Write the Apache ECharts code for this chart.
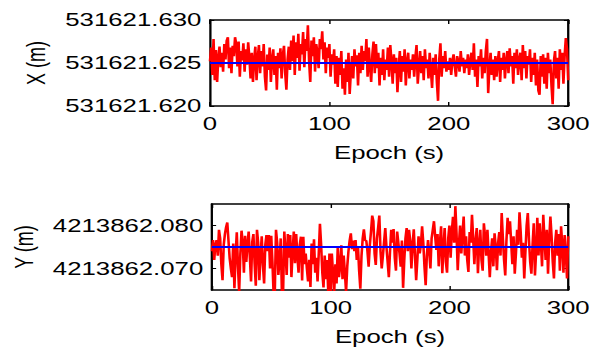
<!DOCTYPE html>
<html>
<head>
<meta charset="utf-8">
<script src="https://cdn.jsdelivr.net/npm/echarts@6/dist/echarts.min.js"></script>
<style>
html, body { margin: 0; padding: 0; background: #fff; overflow: hidden; }
/* the original figure was stretched sideways, so draw narrow and widen */
#chart { width: 415px; height: 356px; transform: scaleX(1.4313); transform-origin: 0 0; }
</style>
</head>
<body>
<div id="chart"></div>
<script>
// epochs in seconds
const EPOCH_START = 0
const EPOCH_STEP = 1
const xTicks = [0, 100, 200, 300]

// X coordinate: mean and per-epoch deviation from it (mm)
const X_MEAN = 531621.625
const xTickLabels = [531621.620, 531621.625, 531621.630]
const xDevMm = [
	0.2, 1.8, -1.4, 2.8, -2.0, 1.5, -2.2, 0.6, 1.9, -0.5,
	1.2, -1.0, 2.2, 0.4, 2.6, 3.0, -0.6, 1.8, -1.2, 2.0,
	0.8, 3.0, 2.2, -0.4, 2.5, -1.6, 1.4, 0.3, 2.3, -1.0,
	1.6, -0.2, 2.4, 0.6, -1.8, 1.2, -2.2, 0.4, 1.9, -2.0,
	0.6, 2.1, -1.2, 1.4, -0.4, 2.2, -1.6, -3.2, 1.0, -0.8,
	1.8, -2.2, 0.5, 1.6, -1.4, 0.8, -3.1, 1.2, -0.6, 1.7,
	-1.8, 0.9, 2.0, -1.2, -3.1, 0.4, 1.9, -0.8, 2.6, 0.2,
	3.2, -1.4, 2.4, 0.6, 3.4, -0.9, 2.2, 1.0, 3.6, -0.5,
	2.8, 1.4, 4.4, 0.2, -2.2, 2.6, 0.8, 3.0, -1.0, 2.2,
	1.2, -0.6, 2.8, 1.6, 3.7, 0.4, 2.4, -1.2, 1.8, 0.6,
	2.2, -1.6, 1.0, -0.2, 1.6, -2.4, 0.8, -2.8, 0.6, -1.4,
	1.4, -3.0, -0.6, -3.7, 0.4, -2.2, 1.2, -3.6, -1.0, 0.8,
	-1.8, 1.6, -0.4, 0.9, -2.6, 1.2, -1.2, 2.0, -0.8, 1.4,
	0.2, 2.8, -1.6, 1.8, -0.4, -2.2, 1.0, 2.5, -1.2, 2.2,
	-0.6, 1.2, -2.6, 0.6, -1.4, 1.6, -2.0, 0.4, -0.8, 1.8,
	-1.6, 2.1, 0.2, -2.4, 1.0, -1.2, 0.6, -3.4, -0.6, 1.4,
	-2.2, 0.8, -1.0, 1.6, -2.6, 0.2, 1.2, -1.8, 0.4, -0.8,
	1.0, -1.6, 0.6, 2.1, -2.4, -0.4, 1.4, -1.2, 0.8, -2.0,
	1.6, -0.6, 0.4, -1.8, 1.2, -0.8, -2.9, 0.6, -1.4, 1.0,
	-2.2, -4.4, 0.4, 2.3, -1.6, 0.8, -0.6, 1.4, -1.0, 0.2,
	-0.8, 0.6, -1.4, 0.2, 1.0, -0.4, -1.6, 0.8, 0.2, -1.0,
	1.4, -0.4, 0.6, -1.2, 0.4, -0.6, 1.0, -1.4, 0.2, 1.2,
	-0.8, 2.3, -1.6, 0.4, -2.8, 0.8, -0.4, 1.6, -1.8, 0.6,
	-1.2, 1.4, 2.8, -3.5, -0.6, 1.2, -1.4, 0.4, -2.0, 0.8,
	-1.6, 0.2, 1.4, -2.2, 0.6, -0.8, 1.2, -1.8, 0.2, 1.4,
	-1.2, 1.7, -0.4, 0.8, -2.4, 1.2, -0.6, 1.6, -1.4, 0.4,
	1.2, -2.0, 2.1, -0.6, 1.4, -1.8, 0.8, -0.2, 1.6, -2.2,
	0.6, -1.4, 1.2, -2.6, 0.4, -3.2, -3.7, 0.8, -1.6, 1.0,
	-2.4, 0.6, -3.0, 1.2, -1.2, 0.4, -2.6, -4.8, 0.2, 1.4,
	-1.8, 0.6, -3.0, 1.6, -0.8, 1.2, -2.4, 0.8, 2.9, 1.6, -2.0
]

// Y coordinate: mean and per-epoch deviation from it (mm)
const Y_MEAN = 4213862.075
const yTickLabels = [4213862.070, 4213862.080]
const yDevMm = [
	-1.0, 1.6, -3.0, 0.5, 1.6, -2.0, 4.0, 2.0, -4.0, -7.7,
	0.5, 3.0, 4.6, 5.7, 1.5, -2.6, -5.0, -7.0, 0.8, -9.6,
	-2.0, 3.4, -4.5, -10.5, -1.5, 3.8, 1.0, -6.0, 2.6, -3.5,
	0.6, 3.6, -2.4, -8.0, 1.2, 3.0, -3.8, -9.0, 4.0, 1.0,
	-7.7, -2.0, 2.5, -4.2, -8.5, 0.5, 2.8, -1.0, 2.8, -5.0,
	2.6, -3.5, -11.0, -10.5, 4.0, 1.0, -6.5, -3.0, 2.0, -11.0,
	-10.5, 3.6, -1.0, -6.5, 3.0, -2.5, 2.8, -7.0, -1.0, 3.6,
	-3.8, 3.0, -2.0, -6.0, 0.5, 2.4, -7.8, 2.4, -4.0, -1.5,
	-5.0, -8.0, -3.0, -9.3, 0.8, -4.0, 1.8, -6.0, -2.5, -8.0,
	-1.5, 5.4, 0.5, -6.0, -9.4, -2.0, -7.5, -3.0, -10.5, -1.5,
	-11.0, -1.5, -6.0, -10.5, -4.0, -8.5, 0.0, -7.0, -4.5, 0.4,
	-7.5, -2.0, -6.0, -10.5, -4.5, -1.0, 1.5, 3.2, -0.5, 1.5,
	-1.0, 1.6, -3.0, 0.2, -5.5, -9.7, -2.0, 2.0, 4.1, 1.5,
	1.5, -1.0, -4.6, 0.5, 3.6, 7.3, 6.0, -1.5, -4.2, 2.0,
	4.5, 7.3, -1.0, -5.0, -2.0, 1.2, 4.4, 0.0, -3.5, -7.0,
	-1.0, 4.0, 1.0, 4.2, -2.5, -5.5, 3.6, 1.0, -1.5, -4.6,
	1.5, -9.5, -3.0, 2.0, 4.4, -1.0, 4.0, 1.5, -5.0, 0.5,
	4.1, -2.0, -7.7, -3.0, 2.5, -1.5, 0.5, 4.8, 1.0, -4.5,
	-8.9, -2.0, 1.6, -1.0, -5.0, 2.0, 4.0, 6.0, 2.5, -0.7,
	3.0, -4.5, 1.0, 4.8, -6.1, 0.0, 4.4, -3.5, -6.0, 2.0,
	5.0, -2.5, 3.5, 7.0, 1.0, 9.5, 3.0, -5.4, 0.5, 5.0,
	-1.5, 3.0, 7.1, -2.0, 2.5, -3.0, -5.8, 3.5, 1.0, 7.5,
	2.0, -4.0, 1.5, 4.4, -6.1, 0.5, 4.0, -3.0, -5.5, 5.5,
	2.5, -2.0, 4.0, -1.5, -7.0, -1.0, 2.0, -4.5, 3.2, 0.0,
	-5.4, 1.0, 3.5, -2.0, 7.9, 2.0, -3.0, -6.6, 1.5, 6.8,
	3.0, 6.0, 1.0, -4.0, 2.5, -6.2, -1.5, 4.0, 0.5, 8.1,
	3.5, -2.5, 1.0, -7.3, -1.0, 5.0, 7.9, 1.5, -3.5, -6.2,
	0.5, 5.5, -6.6, -1.0, 6.8, -2.0, 5.5, 1.0, -4.5, 7.5,
	2.0, -3.0, 4.0, -6.2, 1.5, 7.1, 2.5, -3.5, -7.3, 1.0,
	4.0, -2.0, 3.0, -5.5, 4.8, 0.5, -6.0, 2.8, -1.5, -7.3, 2.5
]

const font = 'Liberation Sans, Arial, sans-serif'
const black = '#000'

function toPoints(mean, devMm) {
	return devMm.map((v, i) => [EPOCH_START + i * EPOCH_STEP, mean + v / 1000])
}

function xAxes(gridIndex) {
	const base = {
		gridIndex: gridIndex,
		type: 'value',
		min: xTicks[0],
		max: xTicks[xTicks.length - 1],
		interval: 100,
		splitLine: { show: false },
		axisLine: { show: true, onZero: false, lineStyle: { color: black, width: 1.6 } },
		axisTick: { inside: true, length: 4, lineStyle: { color: black, width: 1 } }
	}
	return [
		Object.assign({}, base, {
			position: 'bottom',
			name: 'Epoch (s)',
			nameLocation: 'middle',
			nameGap: 38,
			nameTextStyle: { color: black, fontSize: 18, fontFamily: font },
			axisLabel: { color: black, fontSize: 18, fontFamily: font, margin: 9 }
		}),
		Object.assign({}, base, { position: 'top', axisLabel: { show: false } })
	]
}

function yAxes(gridIndex, min, max, ticks, name, nameGap) {
	const base = {
		gridIndex: gridIndex,
		type: 'value',
		min: min,
		max: max,
		scale: true,
		splitLine: { show: false },
		axisLine: { show: true, onZero: false, lineStyle: { color: black, width: 1.6 } },
		axisTick: { inside: true, length: 3, customValues: ticks, lineStyle: { color: black, width: 1 } }
	}
	return [
		Object.assign({}, base, {
			position: 'left',
			name: name,
			nameLocation: 'middle',
			nameGap: nameGap,
			nameTextStyle: { color: black, fontSize: 18, fontFamily: font },
			axisLabel: {
				color: black, fontSize: 18, fontFamily: font, margin: 6,
				customValues: ticks,
				formatter: v => v.toFixed(3)
			}
		}),
		Object.assign({}, base, { position: 'right', axisLabel: { show: false } })
	]
}

const chart = echarts.init(document.getElementById('chart'), null, { renderer: 'svg' })
chart.setOption({
	animation: false,
	backgroundColor: '#fff',
	grid: [
		{ left: 146.7, right: 17.5, top: 20, height: 86 },
		{ left: 146.7, right: 17.5, top: 204, height: 86 }
	],
	xAxis: xAxes(0).concat(xAxes(1)),
	yAxis: yAxes(0, 531621.620, 531621.630, xTickLabels, 'X (m)', 105)
		.concat(yAxes(1, 4213862.065, 4213862.085, yTickLabels, 'Y (m)', 117)),
	series: [
		{
			type: 'line', xAxisIndex: 0, yAxisIndex: 0,
			data: toPoints(X_MEAN, xDevMm),
			symbol: 'none', clip: true,
			lineStyle: { color: '#ff0000', width: 1.8 }
		},
		{
			type: 'line', xAxisIndex: 0, yAxisIndex: 0,
			data: [[xTicks[0], X_MEAN], [xTicks[xTicks.length - 1], X_MEAN]],
			symbol: 'none',
			lineStyle: { color: '#0000ff', width: 2.2 }
		},
		{
			type: 'line', xAxisIndex: 2, yAxisIndex: 2,
			data: toPoints(Y_MEAN, yDevMm),
			symbol: 'none', clip: true,
			lineStyle: { color: '#ff0000', width: 1.8 }
		},
		{
			type: 'line', xAxisIndex: 2, yAxisIndex: 2,
			data: [[xTicks[0], Y_MEAN], [xTicks[xTicks.length - 1], Y_MEAN]],
			symbol: 'none',
			lineStyle: { color: '#0000ff', width: 2.2 }
		}
	]
})
</script>
</body>
</html>
